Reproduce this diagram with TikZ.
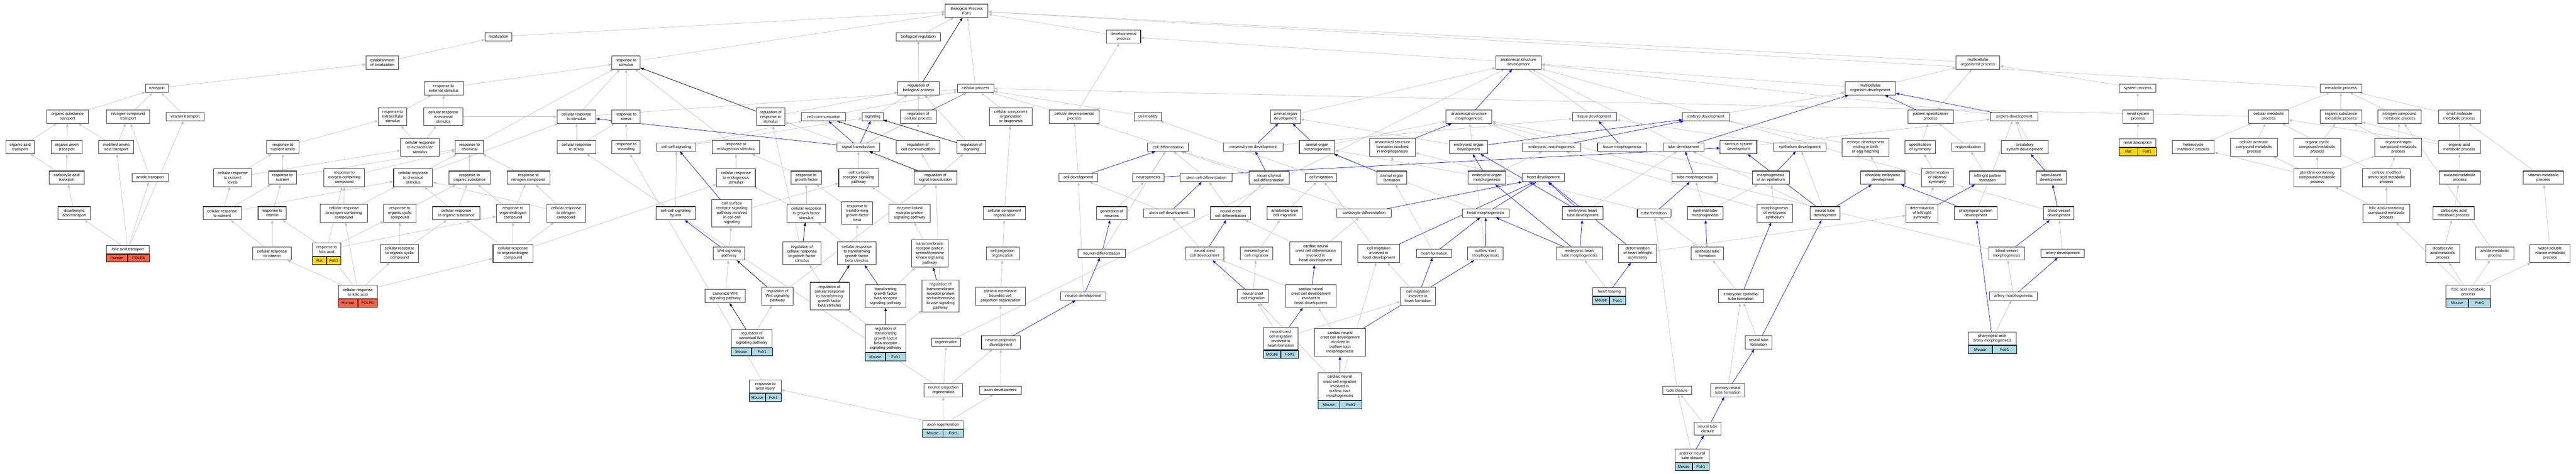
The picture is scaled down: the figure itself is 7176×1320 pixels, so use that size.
\documentclass[tikz,border=0pt]{standalone}
\usepackage{fontspec}
\setmainfont{Liberation Sans}
\usetikzlibrary{arrows.meta,backgrounds}
\definecolor{edgegray}{HTML}{C0C0C0}
\definecolor{boxline}{HTML}{3A3A3A}
\definecolor{human}{HTML}{FF6347}
\definecolor{rat}{HTML}{FFD700}
\definecolor{mouse}{HTML}{ADD8E6}

% species / gene row under an annotated term
\newcommand{\generow}[5]{%
  \node[genecell, fill=#5, minimum width=#2/2, anchor=north east] (#1-sp) at (#1.south) {#3};
  \node[genecell, fill=#5, minimum width=#2/2, anchor=north west] (#1-gn) at (#1.south) {#4};}

\begin{document}
\begin{tikzpicture}[x=1pt, y=-1pt,
  term/.style={draw=boxline, line width=1.5pt, fill=white, align=center, inner sep=2pt,
    minimum height=23, font=\fontsize{11}{13}\selectfont},
  genecell/.style={draw=black, line width=1pt, minimum height=22, inner sep=1pt,
    font=\fontsize{11}{13}\selectfont},
  two/.style={minimum height=37}, three/.style={minimum height=50},
  four/.style={minimum height=63}, five/.style={minimum height=77}, six/.style={minimum height=89},
  isa/.style={draw=edgegray, line width=1pt, -{Triangle[length=9pt,width=7pt]}},
  partof/.style={draw=blue, line width=1pt, -{Triangle[length=9pt,width=7pt]}},
  regl/.style={draw=black, line width=1.1pt, -{Triangle[length=9pt,width=7pt]}}]
\useasboundingbox (0,0) rectangle (7176,1320);

% top ranks
\node[term, two, minimum width=119] (bp) at (2693,30) {Biological Process\\Folr1};
\node[term, minimum width=75] (loc) at (1389,102) {localization};
\node[term, minimum width=124] (breg) at (2558,102) {biological regulation};
\node[term, two, minimum width=95] (devp) at (3130,102) {developmental\\process};
\node[term, two, minimum width=90] (eol) at (1065,174) {establishment\\of localization};
\node[term, two, minimum width=79] (rs) at (1744,174) {response to\\stimulus};
\node[term, two, minimum width=127] (asd) at (4230,174) {anatomical structure\\development};
\node[term, two, minimum width=122] (mop) at (5510,174) {multicellular\\organismal process};

\node[term, minimum width=62] (tr) at (437,246) {transport};
\node[term, two, minimum width=109] (rext) at (1236,246) {response to\\external stimulus};
\node[term, two, minimum width=116] (rbp) at (2559,246) {regulation of\\biological process};
\node[term, minimum width=101] (cp) at (2718,246) {cellular process};
\node[term, two, minimum width=141] (mod) at (5210,246) {multicellular\\organism development};
\node[term, minimum width=102] (sysp) at (5955,246) {system process};
\node[term, minimum width=116] (metp) at (6521,246) {metabolic process};

\node[term, two, minimum width=115] (ost) at (188,325) {organic substance\\transport};
\node[term, two, minimum width=120] (nct) at (357,325) {nitrogen compound\\transport};
\node[term, minimum width=106] (vt) at (516,325) {vitamin transport};
\node[term, three, minimum width=79] (rextra) at (1094,325) {response to\\extracellular\\stimulus};
\node[term, three, minimum width=108] (crext) at (1235,325) {cellular response\\to external\\stimulus};
\node[term, two, minimum width=108] (crs) at (1606,325) {cellular response\\to stimulus};
\node[term, two, minimum width=79] (rstr) at (1744,325) {response to\\stress};
\node[term, three, minimum width=80] (rrs) at (2147,325) {regulation of\\response to\\stimulus};
\node[term, minimum width=123] (ccom) at (2294,325) {cell communication};
\node[term, minimum width=59] (sig) at (2431,325) {signaling};
\node[term, two, minimum width=101] (rcp) at (2558,325) {regulation of\\cellular process};
\node[term, three, minimum width=119] (ccob) at (2816,325) {cellular component\\organization\\or biogenesis};
\node[term, two, minimum width=139] (cdp) at (2992,325) {cellular developmental\\process};
\node[term, minimum width=76] (cmot) at (3198,325) {cell motility};
\node[term, two, minimum width=83] (aod) at (3581,325) {animal organ\\development};
\node[term, two, minimum width=128] (asm) at (4092,325) {anatomical structure\\morphogenesis};
\node[term, minimum width=123] (tisd) at (4442,325) {tissue development};
\node[term, minimum width=130] (embd) at (4752,325) {embryo development};
\node[term, two, minimum width=126] (pspec) at (5378,325) {pattern specification\\process};
\node[term, minimum width=131] (sysd) at (5611,325) {system development};
\node[term, two, minimum width=85] (rsysp) at (5956,325) {renal system\\process};
\node[term, two, minimum width=111] (cmp) at (6320,325) {cellular metabolic\\process};
\node[term, two, minimum width=116] (osmp) at (6521,325) {organic substance\\metabolic process};
\node[term, two, minimum width=120] (ncmp) at (6684,325) {nitrogen compound\\metabolic process};
\node[term, two, minimum width=116] (smmp) at (6851,325) {small molecule\\metabolic process};

\node[term, two, minimum width=80] (oact) at (56,410) {organic acid\\transport};
\node[term, two, minimum width=87] (oant) at (186,410) {organic anion\\transport};
\node[term, two, minimum width=98] (maat) at (324,410) {modified amino\\acid transport};
\node[term, two, minimum width=90] (rnl) at (788,410) {response to\\nutrient levels};
\node[term, three, minimum width=107] (crextra) at (1170,410) {cellular response\\to extracellular\\stimulus};
\node[term, two, minimum width=79] (rchem) at (1308,410) {response to\\chemical};
\node[term, two, minimum width=108] (crstr) at (1606,410) {cellular response\\to stress};
\node[term, two, minimum width=79] (rwound) at (1744,410) {response to\\wounding};
\node[term, minimum width=109] (ccsig) at (1884,410) {cell-cell signaling};
\node[term, two, minimum width=133] (rendo) at (2050,410) {response to\\endogenous stimulus};
\node[term, minimum width=118] (st) at (2391,410) {signal transduction};
\node[term, two, minimum width=122] (rcc) at (2557,410) {regulation of\\cell communication};
\node[term, two, minimum width=81] (rsig) at (2706,410) {regulation of\\signaling};
\node[term, minimum width=113] (celldiff) at (3254,410) {cell differentiation};
\node[term, minimum width=167] (mesd) at (3491,410) {mesenchyme development};
\node[term, two, minimum width=99] (aom) at (3669,410) {animal organ\\morphogenesis};
\node[term, three, minimum width=127] (asfm) at (3879,410) {anatomical structure\\formation involved\\in morphogenesis};
\node[term, two, minimum width=107] (eod) at (4091,410) {embryonic organ\\development};
\node[term, minimum width=163] (embm) at (4322,410) {embryonic morphogenesis};
\node[term, minimum width=137] (tism) at (4519,410) {tissue morphogenesis};
\node[term, minimum width=113] (tubed) at (4690,410) {tube development};
\node[term, two, minimum width=102] (nsd) at (4843,410) {nervous system\\development};
\node[term, minimum width=147] (epid) at (5014,410) {epithelium development};
\node[term, three, minimum width=130] (edeb) at (5197,410) {embryo development\\ending in birth\\or egg hatching};
\node[term, two, minimum width=84] (specsym) at (5349,410) {specification\\of symmetry};
\node[term, minimum width=93] (region) at (5483,410) {regionalization};
\node[term, two, minimum width=131] (csd) at (5640,410) {circulatory\\system development};
\node[term, minimum width=102] (renabs) at (5955,398.5) {renal absorption};
\generow{renabs}{102}{Rat}{Folr1}{rat}
\node[term, two, minimum width=116] (hetmp) at (6110,410) {heterocycle\\metabolic process};
\node[term, three, minimum width=131] (camp) at (6279,410) {cellular aromatic\\compound metabolic\\process};
\node[term, three, minimum width=131] (occmp) at (6455,410) {organic cyclic\\compound metabolic\\process};
\node[term, three, minimum width=130] (oncmp) at (6681,410) {organonitrogen\\compound metabolic\\process};
\node[term, two, minimum width=116] (oamp) at (6851,410) {organic acid\\metabolic process};

\node[term, two, minimum width=97] (cat) at (186,495) {carboxylic acid\\transport};
\node[term, minimum width=100] (amt) at (418,495) {amide transport};
\node[term, three, minimum width=107] (crnl) at (648,495) {cellular response\\to nutrient\\levels};
\node[term, two, minimum width=78] (rnut) at (787,495) {response to\\nutrient};
\node[term, three, minimum width=114] (rocc) at (959,495) {response to\\oxygen-containing\\compound};
\node[term, three, minimum width=109] (crchem) at (1151,495) {cellular response\\to chemical\\stimulus};
\node[term, two, minimum width=115] (ros) at (1308,495) {response to\\organic substance};
\node[term, two, minimum width=119] (rnc) at (1472,495) {response to\\nitrogen compound};
\node[term, three, minimum width=108] (crendo) at (2050,495) {cellular response\\to endogenous\\stimulus};
\node[term, two, minimum width=84] (rgf) at (2246,495) {response to\\growth factor};
\node[term, three, minimum width=111] (csrsp) at (2392,495) {cell surface\\receptor signaling\\pathway};
\node[term, two, minimum width=119] (rst) at (2606,495) {regulation of\\signal transduction};
\node[term, minimum width=107] (celldev) at (3004,495) {cell development};
\node[term, minimum width=88] (neurog) at (3199,495) {neurogenesis};
\node[term, minimum width=145] (scdiff) at (3360,495) {stem cell differentiation};
\node[term, two, minimum width=112] (mcdiff) at (3535,495) {mesenchymal\\cell differentiation};
\node[term, minimum width=87] (cmig) at (3680,495) {cell migration};
\node[term, two, minimum width=83] (aof) at (3877,495) {animal organ\\formation};
\node[term, two, minimum width=106] (eom) at (4142,495) {embryonic organ\\morphogenesis};
\node[term, minimum width=117] (heartd) at (4299,495) {heart development};
\node[term, minimum width=127] (tubem) at (4721,495) {tube morphogenesis};
\node[term, two, minimum width=103] (moe) at (4933,495) {morphogenesis\\of an epithelium};
\node[term, two, minimum width=124] (ced) at (5245,495) {chordate embryonic\\development};
\node[term, three, minimum width=88] (dbs) at (5397,495) {determination\\of bilateral\\symmetry};
\node[term, two, minimum width=101] (lrpf) at (5537,495) {left/right pattern\\formation};
\node[term, two, minimum width=84] (vascd) at (5714,495) {vasculature\\development};
\node[term, three, minimum width=131] (pcmp) at (6455,495) {pteridine-containing\\compound metabolic\\process};
\node[term, three, minimum width=134] (cmaamp) at (6648,495) {cellular modified\\amino acid metabolic\\process};
\node[term, two, minimum width=115] (oxmp) at (6852,495) {oxoacid metabolic\\process};
\node[term, two, minimum width=112] (vmp) at (7085,495) {vitamin metabolic\\process};

\node[term, two, minimum width=90] (dcat) at (207,594) {dicarboxylic\\acid transport};
\node[term, two, minimum width=107] (crnut) at (619,594) {cellular response\\to nutrient};
\node[term, two, minimum width=78] (rvit) at (758,594) {response to\\vitamin};
\node[term, three, minimum width=131] (crocc) at (958,594) {cellular response\\to oxygen-containing\\compound};
\node[term, three, minimum width=90] (rocyc) at (1114,594) {response to\\organic cyclic\\compound};
\node[term, two, minimum width=131] (cros) at (1271,594) {cellular response\\to organic substance};
\node[term, three, minimum width=93] (ronc) at (1429,594) {response to\\organonitrogen\\compound};
\node[term, three, minimum width=107] (crnc) at (1577,594) {cellular response\\to nitrogen\\compound};
\node[term, two, minimum width=109] (ccswnt) at (1882,594) {cell-cell signaling\\by wnt};
\node[term, five, minimum width=112] (csrspcc) at (2039,594) {cell surface\\receptor signaling\\pathway involved\\in cell-cell\\signaling};
\node[term, three, minimum width=107] (crgf) at (2246,594) {cellular response\\to growth factor\\stimulus};
\node[term, four, minimum width=86] (rtgfb) at (2388,594) {response to\\transforming\\growth factor\\beta};
\node[term, three, minimum width=114] (elrp) at (2534,594) {enzyme-linked\\receptor protein\\signaling pathway};
\node[term, two, minimum width=118] (cco) at (2798,594) {cellular component\\organization};
\node[term, two, minimum width=85] (genn) at (3097,594) {generation of\\neurons};
\node[term, minimum width=142] (scdev) at (3256,594) {stem cell development};
\node[term, two, minimum width=112] (nccdiff) at (3428,594) {neural crest\\cell differentiation};
\node[term, two, minimum width=98] (amcm) at (3579,594) {ameboidal-type\\cell migration};
\node[term, minimum width=152] (cardiod) at (3800,594) {cardiocyte differentiation};
\node[term, minimum width=130] (heartm) at (4139,594) {heart morphogenesis};
\node[term, two, minimum width=114] (ehtd) at (4409,594) {embryonic heart\\tube development};
\node[term, minimum width=94] (tubef) at (4608,594) {tube formation};
\node[term, two, minimum width=99] (etm) at (4750,594) {epithelial tube\\morphogenesis};
\node[term, three, minimum width=99] (moee) at (4944,594) {morphogenesis\\of embryonic\\epithelium};
\node[term, two, minimum width=83] (ntd) at (5084,594) {neural tube\\development};
\node[term, three, minimum width=88] (dlrs) at (5354,594) {determination\\of left/right\\symmetry};
\node[term, two, minimum width=120] (phsd) at (5504,594) {pharyngeal system\\development};
\node[term, two, minimum width=84] (bvd) at (5735,594) {blood vessel\\development};
\node[term, three, minimum width=130] (facmp) at (6648,594) {folic acid-containing\\compound metabolic\\process};
\node[term, two, minimum width=116] (cxmp) at (6835,594) {carboxylic acid\\metabolic process};

\node[term, minimum width=119] (fat) at (356,695) {folic acid transport};
\generow{fat}{119}{Human}{FOLR1}{human}
\node[term, two, minimum width=107] (crvit) at (758,706) {cellular response\\to vitamin};
\node[term, two, minimum width=78] (rfa) at (910,695) {response to\\folic acid};
\generow{rfa}{78}{Rat}{Folr1}{rat}
\node[term, three, minimum width=107] (crocyc) at (1113,706) {cellular response\\to organic cyclic\\compound};
\node[term, three, minimum width=111] (cronc) at (1429,706) {cellular response\\to organonitrogen\\compound};
\node[term, two, minimum width=88] (wnt) at (2031,706) {Wnt signaling\\pathway};
\node[term, four, minimum width=107] (rcrgf) at (2234,706) {regulation of\\cellular response\\to growth factor\\stimulus};
\node[term, four, minimum width=108] (crtgfb) at (2387,706) {cellular response\\to transforming\\growth factor\\beta stimulus};
\node[term, five, minimum width=102] (tmrp) at (2590,706) {transmembrane\\receptor protein\\serine/threonine\\kinase signaling\\pathway};
\node[term, two, minimum width=92] (cpo) at (2793,706) {cell projection\\organization};
\node[term, minimum width=131] (neurd) at (3069,706) {neuron differentiation};
\node[term, two, minimum width=107] (nccdev) at (3356,706) {neural crest\\cell development};
\node[term, two, minimum width=90] (mcm) at (3500,706) {mesenchymal\\cell migration};
\node[term, four, minimum width=145] (cnccd) at (3665,706) {cardiac neural\\crest cell differentiation\\involved in\\heart development};
\node[term, three, minimum width=116] (cmhd) at (3841,706) {cell migration\\involved in\\heart development};
\node[term, minimum width=97] (heartf) at (3995,706) {heart formation};
\node[term, two, minimum width=99] (oftm) at (4138,706) {outflow tract\\morphogenesis};
\node[term, two, minimum width=127] (ehtm) at (4400,706) {embryonic heart\\tube morphogenesis};
\node[term, three, minimum width=106] (dhlr) at (4562,706) {determination\\of heart left/right\\asymmetry};
\node[term, two, minimum width=91] (etf) at (4756,706) {epithelial tube\\formation};
\node[term, two, minimum width=99] (bvm) at (5590,706) {blood vessel\\morphogenesis};
\node[term, minimum width=121] (artd) at (5746,706) {artery development};
\node[term, three, minimum width=95] (dcamp) at (6805,706) {dicarboxylic\\acid metabolic\\process};
\node[term, two, minimum width=106] (amp) at (6950,706) {amide metabolic\\process};
\node[term, three, minimum width=112] (wsvmp) at (7104,706) {water-soluble\\vitamin metabolic\\process};

\node[term, two, minimum width=108] (crfa) at (997,813.5) {cellular response\\to folic acid};
\generow{crfa}{108}{Human}{FOLR1}{human}
\node[term, two, minimum width=113] (cwnt) at (2020,825) {canonical Wnt\\signaling pathway};
\node[term, three, minimum width=87] (rwnt) at (2166,825) {regulation of\\Wnt signaling\\pathway};
\node[term, five, minimum width=109] (rcrtgfb) at (2311,825) {regulation of\\cellular response\\to transforming\\growth factor\\beta stimulus};
\node[term, four, minimum width=113] (tgfbr) at (2467,825) {transforming\\growth factor\\beta receptor\\signaling pathway};
\node[term, six, minimum width=103] (rtmrp) at (2620,825) {regulation of\\transmembrane\\receptor protein\\serine/threonine\\kinase signaling\\pathway};
\node[term, three, minimum width=139] (pmbcpo) at (2787,825) {plasma membrane\\bounded cell\\projection organization};
\node[term, minimum width=126] (neurdev) at (3018,825) {neuron development};
\node[term, two, minimum width=86] (nccm) at (3490,825) {neural crest\\cell migration};
\node[term, four, minimum width=141] (cnccdhd) at (3652,825) {cardiac neural\\crest cell development\\involved in\\heart development};
\node[term, three, minimum width=97] (cmhf) at (3950,825) {cell migration\\involved in\\heart formation};
\node[term, minimum width=91] (hloop) at (4483,813.5) {heart looping};
\generow{hloop}{91}{Mouse}{Folr1}{mouse}
\node[term, two, minimum width=126] (eetf) at (4850,825) {embryonic epithelial\\tube formation};
\node[term, minimum width=134] (artm) at (5609,825) {artery morphogenesis};
\node[term, two, minimum width=124] (famp) at (6876,813.5) {folic acid metabolic\\process};
\generow{famp}{124}{Mouse}{Folr1}{mouse}

\node[term, three, minimum width=114] (rcwnt) at (2094,942.5) {regulation of\\canonical Wnt\\signaling pathway};
\generow{rcwnt}{114}{Mouse}{Folr1}{mouse}
\node[term, five, minimum width=113] (rtgfbr) at (2467,943) {regulation of\\transforming\\growth factor\\beta receptor\\signaling pathway};
\generow{rtgfbr}{113}{Mouse}{Folr1}{mouse}
\node[term, minimum width=81] (regen) at (2636,954) {regeneration};
\node[term, two, minimum width=108] (npd) at (2788,954) {neuron projection\\development};
\node[term, four, minimum width=97] (nccmhf) at (3568,943) {neural crest\\cell migration\\involved in\\heart formation};
\generow{nccmhf}{97}{Mouse}{Folr1}{mouse}
\node[term, five, minimum width=141] (cnccdoft) at (3733,954) {cardiac neural\\crest cell development\\involved in\\outflow tract\\morphogenesis};
\node[term, two, minimum width=75] (ntf) at (4899,954) {neural tube\\formation};
\node[term, two, minimum width=134] (paam) at (5550,943) {pharyngeal arch\\artery morphogenesis};
\generow{paam}{134}{Mouse}{Folr1}{mouse}

\node[term, two, minimum width=88] (raxi) at (2132,1076.5) {response to\\axon injury};
\generow{raxi}{88}{Mouse}{Folr1}{mouse}
\node[term, two, minimum width=108] (npr) at (2628,1087) {neuron projection\\regeneration};
\node[term, minimum width=116] (axd) at (2787,1087) {axon development};
\node[term, five, minimum width=121] (cnccmoft) at (3732,1076.5) {cardiac neural\\crest cell migration\\involved in\\outflow tract\\morphogenesis};
\generow{cnccmoft}{121}{Mouse}{Folr1}{mouse}
\node[term, minimum width=81] (tclos) at (4672,1087) {tube closure};
\node[term, two, minimum width=94] (pntf) at (4813,1087) {primary neural\\tube formation};

\node[term, minimum width=113] (axreg) at (2627,1183) {axon regeneration};
\generow{axreg}{113}{Mouse}{Folr1}{mouse}
\node[term, two, minimum width=74] (ntc) at (4757,1194) {neural tube\\closure};
\node[term, two, minimum width=94] (antc) at (4714,1269.5) {anterior neural\\tube closure};
\generow{antc}{94}{Mouse}{Folr1}{mouse}

\begin{scope}[on background layer]
\fill[white] (0,0) rectangle (7176,1320);
% transport
\draw[isa] (eol) -- (loc);
\draw[isa] (loc) -- (bp);
\draw[isa] (tr) -- (eol);
\draw[isa] (ost) -- (tr);
\draw[isa] (nct) -- (tr);
\draw[isa] (vt) -- (tr);
\draw[isa] (oact) -- (ost);
\draw[isa] (oant) -- (ost);
\draw[isa] (maat) -- (ost);
\draw[isa] (maat) -- (nct);
\draw[isa] (cat) -- (oact);
\draw[isa] (cat) -- (oant);
\draw[isa] (amt) -- (nct);
\draw[isa] (dcat) -- (cat);
\draw[isa] (fat) -- (dcat);
\draw[isa] (fat) -- (maat);
\draw[isa] (fat) -- (amt);
\draw[isa] (fat) -- (vt);
% responses
\draw[isa] (rs) -- (bp);
\draw[isa] (rext) -- (rs);
\draw[isa] (rextra) -- (rext);
\draw[isa] (rnl) -- (rextra);
\draw[isa] (crextra) -- (rextra);
\draw[isa] (crextra) -- (crext);
\draw[isa] (crext) -- (rext);
\draw[isa] (crext) -- (crs);
\draw[isa] (crnl) -- (rnl);
\draw[isa] (crnl) -- (crextra);
\draw[isa] (rnut) -- (rnl);
\draw[isa] (rnut) -- (rchem);
\draw[isa] (rocc) -- (rchem);
\draw[isa] (crchem) -- (rchem);
\draw[isa] (crchem) -- (crs);
\draw[isa] (crnut) -- (crnl);
\draw[isa] (crnut) -- (rnut);
\draw[isa] (crnut) -- (crchem);
\draw[isa] (rvit) -- (rnut);
\draw[isa] (crocc) -- (rocc);
\draw[isa] (crocc) -- (crchem);
\draw[isa] (rocyc) -- (ros);
\draw[isa] (crvit) -- (rvit);
\draw[isa] (crvit) -- (crnut);
\draw[isa] (rfa) -- (rvit);
\draw[isa] (rfa) -- (rocc);
\draw[isa] (rfa) -- (rocyc);
\draw[isa] (rfa) -- (ronc);
\draw[isa] (ronc) -- (ros);
\draw[isa] (ronc) -- (rnc);
\draw[isa] (cros) -- (ros);
\draw[isa] (cros) -- (crchem);
\draw[isa] (crnc) -- (rnc);
\draw[isa] (crnc) -- (crchem);
\draw[isa] (cronc) -- (ronc);
\draw[isa] (cronc) -- (cros);
\draw[isa] (cronc) -- (crnc);
\draw[isa] (cronc) -- (crendo);
\draw[isa] (crocyc) -- (rocyc);
\draw[isa] (crocyc) -- (cros);
\draw[isa] (crfa) -- (crvit);
\draw[isa] (crfa) -- (rfa);
\draw[isa] (crfa) -- (crocc);
\draw[isa] (crfa) -- (crocyc);
\draw[isa] (crfa) -- (cronc);
\draw[isa] (rchem) -- (rs);
\draw[isa] (ros) -- (rchem);
\draw[isa] (rnc) -- (rchem);
\draw[isa] (crs) -- (rs);
\draw[isa] (crs) -- (cp);
\draw[isa] (rstr) -- (rs);
\draw[isa] (crstr) -- (crs);
\draw[isa] (crstr) -- (rstr);
\draw[isa] (rwound) -- (rstr);
\draw[isa] (rendo) -- (rs);
\draw[isa] (crendo) -- (rendo);
\draw[isa] (rgf) -- (rendo);
\draw[isa] (crgf) -- (rgf);
\draw[isa] (crgf) -- (crendo);
\draw[isa] (rtgfb) -- (rgf);
\draw[isa] (crtgfb) -- (rtgfb);
\draw[isa] (crtgfb) -- (crgf);
\draw[regl] (rcrgf) -- (crgf);
\draw[isa] (rcrgf) -- (rrs);
\draw[isa] (rcrtgfb) -- (rcrgf);
\draw[regl] (rcrtgfb) -- (crtgfb);
\draw[regl] (rrs) -- (rs);
\draw[isa] (rrs) -- (rbp);
\draw[isa] (raxi) -- (rwound);
\draw[isa] (npr) -- (crstr);
\draw[isa] (axreg) -- (raxi);
% regulation and signaling
\draw[isa] (breg) -- (bp);
\draw[isa] (rbp) -- (breg);
\draw[regl] (rbp) -- (bp);
\draw[isa] (cp) -- (bp);
\draw[isa] (devp) -- (bp);
\draw[isa] (mop) -- (bp);
\draw[isa] (metp) -- (bp);
\draw[isa] (rcp) -- (rbp);
\draw[regl] (rcp) -- (cp);
\draw[isa] (ccom) -- (cp);
\draw[isa] (sig) -- (rbp);
\draw[partof] (st) -- (sig);
\draw[partof] (st) -- (ccom);
\draw[partof] (st) -- (crs);
\draw[isa] (st) -- (rcp);
\draw[isa] (st) -- (cp);
\draw[isa] (rcc) -- (rcp);
\draw[regl] (rcc) -- (ccom);
\draw[isa] (rsig) -- (rbp);
\draw[regl] (rsig) -- (sig);
\draw[isa] (rst) -- (rsig);
\draw[isa] (rst) -- (rcc);
\draw[isa] (rst) -- (rrs);
\draw[regl] (rst) -- (st);
\draw[isa] (ccsig) -- (ccom);
\draw[isa] (ccsig) -- (sig);
\draw[isa] (ccswnt) -- (ccsig);
\draw[partof] (csrspcc) -- (ccsig);
\draw[isa] (csrspcc) -- (csrsp);
\draw[isa] (csrsp) -- (st);
\draw[isa] (elrp) -- (csrsp);
\draw[isa] (tmrp) -- (elrp);
\draw[isa] (tgfbr) -- (tmrp);
\draw[partof] (tgfbr) -- (crtgfb);
\draw[regl] (rtmrp) -- (tmrp);
\draw[isa] (rtmrp) -- (rst);
\draw[regl] (rtgfbr) -- (tgfbr);
\draw[isa] (rtgfbr) -- (rtmrp);
\draw[isa] (rtgfbr) -- (rcrtgfb);
\draw[partof] (wnt) -- (ccswnt);
\draw[isa] (wnt) -- (csrspcc);
\draw[isa] (cwnt) -- (wnt);
\draw[regl] (rwnt) -- (wnt);
\draw[isa] (rwnt) -- (rst);
\draw[regl] (rcwnt) -- (cwnt);
\draw[isa] (rcwnt) -- (rwnt);
% cells and neurons
\draw[isa] (cdp) -- (devp);
\draw[isa] (cdp) -- (cp);
\draw[isa] (ccob) -- (cp);
\draw[isa] (cco) -- (ccob);
\draw[isa] (cpo) -- (cco);
\draw[isa] (pmbcpo) -- (cpo);
\draw[isa] (npd) -- (pmbcpo);
\draw[partof] (npd) -- (neurdev);
\draw[isa] (axd) -- (npd);
\draw[isa] (regen) -- (asd);
\draw[isa] (npr) -- (regen);
\draw[isa] (npr) -- (npd);
\draw[isa] (axreg) -- (npr);
\draw[isa] (axreg) -- (axd);
\draw[isa] (cmot) -- (cp);
\draw[isa] (celldiff) -- (cdp);
\draw[partof] (celldev) -- (celldiff);
\draw[isa] (celldev) -- (cdp);
\draw[isa] (neurog) -- (celldiff);
\draw[partof] (neurog) -- (nsd);
\draw[isa] (genn) -- (neurog);
\draw[partof] (neurd) -- (genn);
\draw[isa] (neurd) -- (celldiff);
\draw[partof] (neurdev) -- (neurd);
\draw[isa] (neurdev) -- (celldev);
\draw[isa] (scdiff) -- (celldiff);
\draw[partof] (scdev) -- (scdiff);
\draw[isa] (scdev) -- (celldev);
\draw[isa] (mcdiff) -- (celldiff);
\draw[partof] (mcdiff) -- (mesd);
\draw[partof] (mesd) -- (aod);
\draw[isa] (mesd) -- (tisd);
\draw[isa] (nccdiff) -- (scdiff);
\draw[isa] (nccdiff) -- (mcdiff);
\draw[partof] (nccdev) -- (nccdiff);
\draw[isa] (nccdev) -- (scdev);
\draw[partof] (nccm) -- (nccdev);
\draw[isa] (nccm) -- (mcm);
\draw[isa] (mcm) -- (amcm);
\draw[isa] (amcm) -- (cmig);
\draw[isa] (cmig) -- (cmot);
% heart
\draw[isa] (cnccd) -- (nccdiff);
\draw[isa] (cnccd) -- (cardiod);
\draw[partof] (cnccdhd) -- (cnccd);
\draw[isa] (cnccdhd) -- (nccdev);
\draw[partof] (nccmhf) -- (cnccdhd);
\draw[isa] (nccmhf) -- (nccm);
\draw[isa] (nccmhf) -- (cmhf);
\draw[partof] (cmhf) -- (heartf);
\draw[isa] (cmhf) -- (cmhd);
\draw[partof] (cmhd) -- (heartd);
\draw[isa] (cmhd) -- (cmig);
\draw[partof] (cnccdoft) -- (oftm);
\draw[isa] (cnccdoft) -- (cnccdhd);
\draw[partof] (cnccmoft) -- (cnccdoft);
\draw[isa] (cnccmoft) -- (cmhd);
\draw[isa] (cnccmoft) -- (nccm);
\draw[partof] (heartf) -- (heartm);
\draw[isa] (heartf) -- (aof);
\draw[partof] (oftm) -- (heartm);
\draw[isa] (oftm) -- (asm);
\draw[partof] (heartm) -- (heartd);
\draw[isa] (heartm) -- (aom);
\draw[partof] (cardiod) -- (heartd);
\draw[isa] (cardiod) -- (celldiff);
\draw[partof] (ehtd) -- (heartd);
\draw[partof] (ehtd) -- (eod);
\draw[isa] (ehtd) -- (tubed);
\draw[partof] (ehtm) -- (heartm);
\draw[partof] (ehtm) -- (ehtd);
\draw[partof] (ehtm) -- (eom);
\draw[partof] (dhlr) -- (heartd);
\draw[isa] (dhlr) -- (dlrs);
\draw[isa] (hloop) -- (ehtm);
\draw[partof] (hloop) -- (dhlr);
% organs, tubes and tissues
\draw[partof] (eom) -- (eod);
\draw[isa] (eom) -- (embm);
\draw[isa] (eom) -- (aom);
\draw[partof] (eod) -- (embd);
\draw[isa] (eod) -- (aod);
\draw[partof] (aof) -- (aom);
\draw[isa] (aof) -- (asfm);
\draw[partof] (aom) -- (aod);
\draw[isa] (aom) -- (asm);
\draw[partof] (asfm) -- (asm);
\draw[partof] (asm) -- (asd);
\draw[isa] (aod) -- (asd);
\draw[isa] (tisd) -- (asd);
\draw[partof] (embm) -- (embd);
\draw[isa] (embm) -- (asm);
\draw[partof] (tism) -- (tisd);
\draw[isa] (tism) -- (asm);
\draw[isa] (tubed) -- (asd);
\draw[partof] (tubed) -- (mod);
\draw[partof] (tubem) -- (tubed);
\draw[isa] (tubem) -- (asm);
\draw[partof] (tubef) -- (tubem);
\draw[isa] (tubef) -- (asfm);
\draw[isa] (etm) -- (tubem);
\draw[isa] (etm) -- (moe);
\draw[isa] (etf) -- (tubef);
\draw[partof] (etf) -- (etm);
\draw[isa] (eetf) -- (etf);
\draw[partof] (eetf) -- (moee);
\draw[isa] (ntf) -- (eetf);
\draw[partof] (ntf) -- (ntd);
\draw[partof] (pntf) -- (ntf);
\draw[isa] (pntf) -- (eetf);
\draw[isa] (tclos) -- (tubef);
\draw[isa] (ntc) -- (tclos);
\draw[partof] (ntc) -- (pntf);
\draw[partof] (antc) -- (ntc);
\draw[isa] (antc) -- (tclos);
\draw[isa] (asd) -- (devp);
\draw[isa] (embd) -- (mod);
\draw[isa] (mod) -- (asd);
\draw[isa] (mod) -- (mop);
\draw[partof] (pspec) -- (mod);
\draw[isa] (pspec) -- (mop);
\draw[partof] (sysd) -- (mod);
\draw[isa] (sysd) -- (asd);
\draw[isa] (sysp) -- (mop);
\draw[isa] (rsysp) -- (sysp);
\draw[isa] (renabs) -- (rsysp);
\draw[isa] (nsd) -- (sysd);
\draw[isa] (epid) -- (tisd);
\draw[isa] (edeb) -- (embd);
\draw[isa] (specsym) -- (pspec);
\draw[isa] (region) -- (pspec);
\draw[isa] (csd) -- (sysd);
\draw[partof] (moe) -- (epid);
\draw[isa] (moe) -- (tism);
\draw[isa] (ced) -- (edeb);
\draw[isa] (dbs) -- (specsym);
\draw[isa] (lrpf) -- (region);
\draw[partof] (vascd) -- (csd);
\draw[isa] (vascd) -- (sysd);
\draw[isa] (moee) -- (moe);
\draw[isa] (moee) -- (embm);
\draw[partof] (ntd) -- (ced);
\draw[partof] (ntd) -- (nsd);
\draw[isa] (ntd) -- (tubed);
\draw[isa] (ntd) -- (epid);
\draw[partof] (dlrs) -- (lrpf);
\draw[isa] (dlrs) -- (dbs);
\draw[partof] (phsd) -- (ced);
\draw[isa] (phsd) -- (sysd);
\draw[partof] (bvd) -- (vascd);
\draw[isa] (bvd) -- (asd);
\draw[partof] (bvm) -- (bvd);
\draw[isa] (bvm) -- (tubem);
\draw[isa] (artd) -- (bvd);
\draw[isa] (artm) -- (bvm);
\draw[partof] (artm) -- (artd);
\draw[isa] (paam) -- (artm);
\draw[partof] (paam) -- (phsd);
% metabolism
\draw[isa] (cmp) -- (metp);
\draw[isa] (cmp) -- (cp);
\draw[isa] (osmp) -- (metp);
\draw[isa] (ncmp) -- (metp);
\draw[isa] (smmp) -- (metp);
\draw[isa] (hetmp) -- (cmp);
\draw[isa] (camp) -- (cmp);
\draw[isa] (occmp) -- (osmp);
\draw[isa] (oncmp) -- (osmp);
\draw[isa] (oncmp) -- (ncmp);
\draw[isa] (oamp) -- (smmp);
\draw[isa] (oamp) -- (osmp);
\draw[isa] (oamp) -- (cmp);
\draw[isa] (pcmp) -- (hetmp);
\draw[isa] (pcmp) -- (camp);
\draw[isa] (pcmp) -- (occmp);
\draw[isa] (pcmp) -- (oncmp);
\draw[isa] (cmaamp) -- (oncmp);
\draw[isa] (cmaamp) -- (cmp);
\draw[isa] (oxmp) -- (oamp);
\draw[isa] (vmp) -- (smmp);
\draw[isa] (facmp) -- (pcmp);
\draw[isa] (facmp) -- (cmaamp);
\draw[isa] (cxmp) -- (oxmp);
\draw[isa] (dcamp) -- (cxmp);
\draw[isa] (amp) -- (ncmp);
\draw[isa] (wsvmp) -- (vmp);
\draw[isa] (famp) -- (facmp);
\draw[isa] (famp) -- (dcamp);
\draw[isa] (famp) -- (amp);
\draw[isa] (famp) -- (wsvmp);
\end{scope}
\end{tikzpicture}
\end{document}
